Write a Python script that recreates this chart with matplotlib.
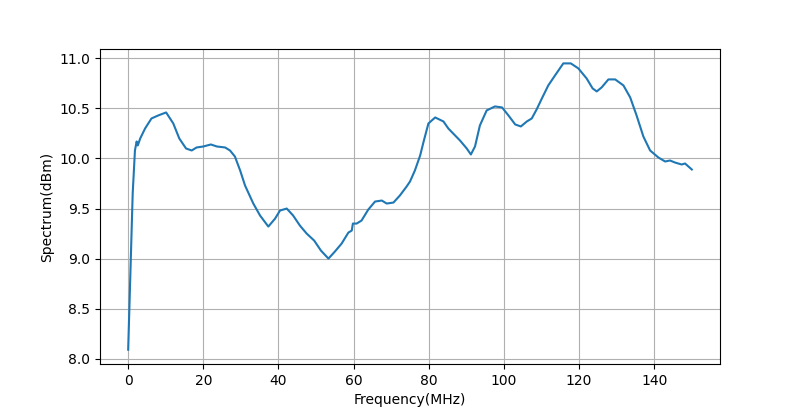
import matplotlib
matplotlib.use("Agg")
import matplotlib.pyplot as plt
import numpy as np

# frecuencia (MHz) y espectro (dBm)
freq_mhz = [0.0, 1.2, 1.8, 2.25, 2.55, 3.2, 4.5, 6.2, 8.0, 10.1, 12.0, 13.6,
            15.4, 16.9, 18.2, 20.0, 22.0, 23.6, 25.8, 27.1, 28.4, 29.8, 31.1,
            33.3, 35.1, 37.3, 39.1, 40.4, 42.2, 43.9, 45.7, 47.5, 49.5, 51.3,
            53.3, 55.0, 56.8, 58.6, 59.5, 59.8, 60.8, 62.1, 63.9, 65.7, 67.5,
            68.8, 70.6, 72.3, 74.1, 75.0, 76.3, 77.7, 78.7, 79.9, 81.7, 83.9,
            85.2, 87.0, 88.3, 90.1, 91.2, 92.3, 93.6, 95.4, 97.6, 99.5, 101.2,
            103.0, 104.5, 106.1, 107.4, 108.7, 110.1, 111.8, 113.6, 115.8,
            117.8, 119.8, 122.0, 123.6, 124.7, 126.0, 127.8, 129.6, 131.8,
            133.6, 135.3, 137.1, 138.9, 141.1, 142.9, 144.2, 145.5, 147.3,
            148.2, 150.0]
spectrum_dbm = [8.09, 9.65, 10.08, 10.17, 10.13, 10.20, 10.30, 10.40, 10.43,
                10.46, 10.35, 10.20, 10.10, 10.08, 10.11, 10.12, 10.14, 10.12,
                10.11, 10.08, 10.02, 9.88, 9.73, 9.55, 9.43, 9.32, 9.40, 9.48,
                9.50, 9.43, 9.33, 9.25, 9.18, 9.08, 9.00, 9.07, 9.15, 9.26,
                9.28, 9.35, 9.35, 9.38, 9.49, 9.57, 9.58, 9.55, 9.56, 9.63,
                9.72, 9.77, 9.88, 10.03, 10.18, 10.35, 10.41, 10.37, 10.30,
                10.23, 10.18, 10.10, 10.04, 10.12, 10.33, 10.48, 10.52, 10.51,
                10.43, 10.34, 10.32, 10.37, 10.40, 10.49, 10.60, 10.73, 10.83,
                10.95, 10.95, 10.90, 10.80, 10.70, 10.67, 10.71, 10.79, 10.79,
                10.73, 10.61, 10.43, 10.22, 10.08, 10.01, 9.97, 9.98, 9.96,
                9.94, 9.95, 9.89]

fig, ax = plt.subplots(figsize=(8, 4.09), dpi=100)
ax.plot(freq_mhz, spectrum_dbm, color="#1f77b4", linewidth=1.5)
ax.set_xlabel("Frequency(MHz)")
ax.set_ylabel("Spectrum(dBm)")
ax.grid(True)
fig.savefig("out.png", dpi=100)
plt.close(fig)
